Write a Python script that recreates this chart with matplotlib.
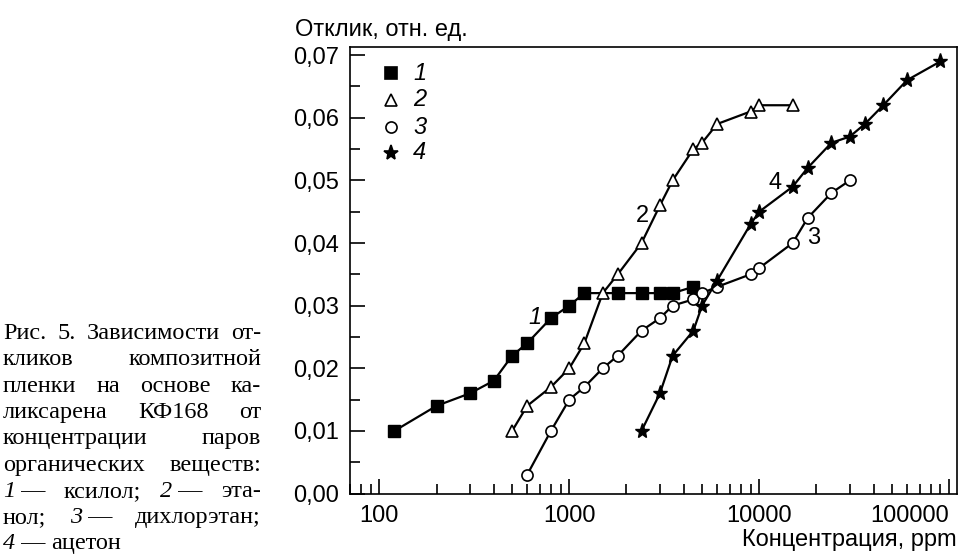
import matplotlib
matplotlib.use("Agg")
import matplotlib.pyplot as plt
from matplotlib.ticker import FixedLocator, LogLocator, NullFormatter, MultipleLocator

# data
x1 = [120, 200, 300, 400, 500, 600, 800, 1000, 1200, 1800, 2400, 3000, 3500, 4500]
y1 = [0.010, 0.014, 0.016, 0.018, 0.022, 0.024, 0.028, 0.030, 0.032, 0.032, 0.032, 0.032, 0.032, 0.033]

x2 = [500, 600, 800, 1000, 1200, 1500, 1800, 2400, 3000, 3500, 4500, 5000, 6000, 9000, 10000, 15000]
y2 = [0.010, 0.014, 0.017, 0.020, 0.024, 0.032, 0.035, 0.040, 0.046, 0.050, 0.055, 0.056, 0.059, 0.061, 0.062, 0.062]

x3 = [600, 800, 1000, 1200, 1500, 1800, 2400, 3000, 3500, 4500, 5000, 6000, 9000, 10000, 15000, 18000, 24000, 30000]
y3 = [0.003, 0.010, 0.015, 0.017, 0.020, 0.022, 0.026, 0.028, 0.030, 0.031, 0.032, 0.033, 0.035, 0.036, 0.040, 0.044, 0.048, 0.050]

x4 = [2400, 3000, 3500, 4500, 5000, 6000, 9000, 10000, 15000, 18000, 24000, 30000, 36000, 45000, 60000, 90000]
y4 = [0.010, 0.016, 0.022, 0.026, 0.030, 0.034, 0.043, 0.045, 0.049, 0.052, 0.056, 0.057, 0.059, 0.062, 0.066, 0.069]

xticks = [100, 1000, 10000, 100000]
xticklabels = ["100", "1000", "10000", "100000"]
yticks = [0.00, 0.01, 0.02, 0.03, 0.04, 0.05, 0.06, 0.07]
yticklabels = ["0,00", "0,01", "0,02", "0,03", "0,04", "0,05", "0,06", "0,07"]

caption = [
    "Рис. 5. Зависимости от-",
    "кликов композитной",
    "пленки на основе ка-",
    "ликсарена КФ168 от",
    "концентрации паров",
    "органических веществ:",
    "1\u00a0— ксилол; 2\u00a0— эта-",
    "нол; 3\u00a0— дихлорэтан;",
    "4\u00a0— ацетон",
]

SANS = ["Liberation Sans", "DejaVu Sans"]
SERIF = ["Liberation Serif", "DejaVu Serif"]
plt.rcParams["font.family"] = SANS
FS = 17

W, H = 959, 554
fig = plt.figure(figsize=(W / 100, H / 100), dpi=100)
ax = fig.add_axes([350 / W, (H - 493.5) / H, 607 / W, 446.5 / H])

ax.plot(x1, y1, "-", color="black", lw=1.6, marker="s", ms=8, mfc="black", mec="black")
ax.plot(x2, y2, "-", color="black", lw=1.6, marker="^", ms=9, mfc="white", mec="black", mew=1.2)
ax.plot(x3, y3, "-", color="black", lw=1.6, marker="o", ms=8, mfc="white", mec="black", mew=1.2)
ax.plot(x4, y4, "-", color="black", lw=1.6, marker="*", ms=11, mfc="black", mec="black")

ax.set_xscale("log")
ax.set_xlim(70, 110000)
ax.set_ylim(0, 0.0713)

ax.xaxis.set_major_locator(FixedLocator(xticks))
ax.set_xticklabels(xticklabels)
ax.xaxis.set_minor_locator(LogLocator(base=10, subs=range(2, 10)))
ax.xaxis.set_minor_formatter(NullFormatter())
ax.set_yticks(yticks)
ax.set_yticklabels(yticklabels)
ax.yaxis.set_minor_locator(MultipleLocator(0.005))

ax.tick_params(which="both", direction="in", labelsize=FS, width=1.2, pad=8)
ax.tick_params(which="major", length=11)
ax.tick_params(which="minor", length=7)
ax.tick_params(axis="x", which="both", top=False)
ax.tick_params(axis="y", which="both", right=False)
for s in ax.spines.values():
    s.set_linewidth(1.2)
ax.get_xticklabels()[-1].set_horizontalalignment("right")

# legend drawn as markers + italic numbers
leg_markers = [("s", "black"), ("^", "white"), ("o", "white"), ("*", "black")]
leg_y = [73, 100, 127, 153]
for (m, fc), yy, lab in zip(leg_markers, leg_y, ["1", "2", "3", "4"]):
    ms = 11 if m == "*" else 8
    ax.plot([391 / W], [1 - yy / H], transform=fig.transFigure, marker=m, ms=ms,
            mfc=fc, mec="black", mew=1.2, ls="none", clip_on=False)
    fig.text(413 / W, 1 - yy / H, lab, fontsize=FS, style="italic", va="center", ha="left")

# curve labels
fig.text(535 / W, 1 - 318 / H, "1", fontsize=FS, style="italic", ha="center", va="center")
fig.text(642 / W, 1 - 216 / H, "2", fontsize=FS, ha="center", va="center")
fig.text(814 / W, 1 - 238 / H, "3", fontsize=FS, ha="center", va="center")
fig.text(775 / W, 1 - 183 / H, "4", fontsize=FS, ha="center", va="center")

fig.text(295 / W, 1 - 30 / H, "Отклик, отн. ед.", fontsize=FS, ha="left", va="center")
fig.text(957 / W, 1 - 540 / H, "Концентрация, ppm", fontsize=FS, ha="right", va="center")

# justified caption on the left
renderer = fig.canvas.get_renderer()
left, right = 3, 261
base0, pitch, cap_fs = 339, 26.3, 17.5


def word_pieces(word):
    if "\u00a0" in word:
        num, rest = word.split("\u00a0", 1)
        return [(num, "italic"), ("\u00a0" + rest, "normal")]
    return [(word, "normal")]


for i, line in enumerate(caption):
    yb = 1 - (base0 + i * pitch) / H
    words = line.split(" ")
    groups = []
    total = 0.0
    for w in words:
        items = []
        for txt, st in word_pieces(w):
            t = fig.text(0, yb, txt, fontsize=cap_fs, family=SERIF, style=st, va="baseline", ha="left")
            bw = t.get_window_extent(renderer).width
            items.append((t, bw))
            total += bw
        groups.append(items)
    if i == len(caption) - 1:
        gap = cap_fs * 100 / 72 * 0.25
    else:
        gap = (right - left - total) / max(len(words) - 1, 1)
    x = left
    for items in groups:
        for t, bw in items:
            t.set_x(x / W)
            x += bw
        x += gap

fig.savefig("out.png", dpi=100)
